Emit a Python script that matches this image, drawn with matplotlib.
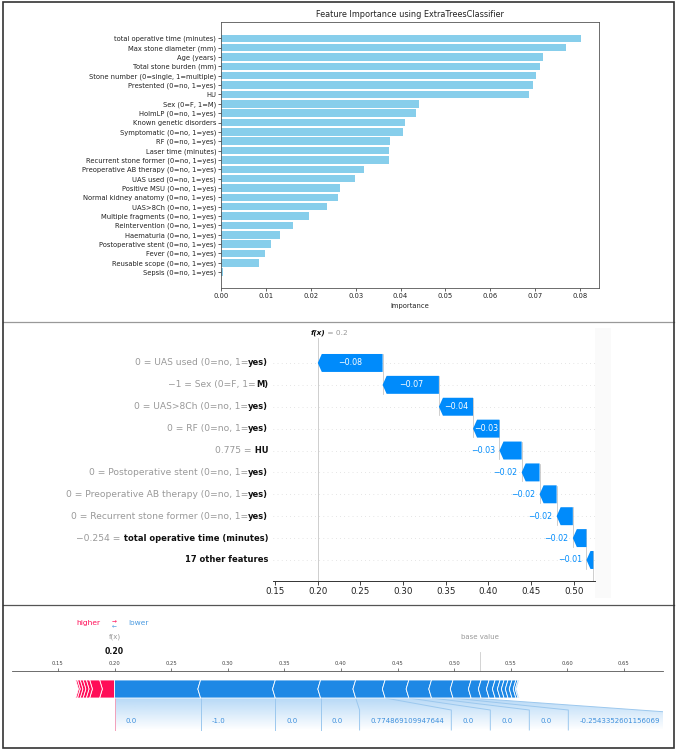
import matplotlib
matplotlib.use("Agg")
import matplotlib.pyplot as plt
import numpy as np
from matplotlib.patches import Polygon, Rectangle
from matplotlib.lines import Line2D
from matplotlib.ticker import FormatStrFormatter
from matplotlib.transforms import blended_transform_factory

W, H = 677, 751

# --- panel 1: feature importance (ExtraTreesClassifier) ---
fi_features = ["total operative time (minutes)", "Max stone diameter (mm)", "Age (years)",
               "Total stone burden (mm)", "Stone number (0=single, 1=multiple)",
               "Prestented (0=no, 1=yes)", "HU", "Sex (0=F, 1=M)", "HolmLP (0=no, 1=yes)",
               "Known genetic disorders", "Symptomatic (0=no, 1=yes)", "RF (0=no, 1=yes)",
               "Laser time (minutes)", "Recurrent stone former (0=no, 1=yes)",
               "Preoperative AB therapy (0=no, 1=yes)", "UAS used (0=no, 1=yes)",
               "Positive MSU (0=no, 1=yes)", "Normal kidney anatomy (0=no, 1=yes)",
               "UAS>8Ch (0=no, 1=yes)", "Multiple fragments (0=no, 1=yes)",
               "Reintervention (0=no, 1=yes)", "Haematuria (0=no, 1=yes)",
               "Postoperative stent (0=no, 1=yes)", "Fever (0=no, 1=yes)",
               "Reusable scope (0=no, 1=yes)", "Sepsis (0=no, 1=yes)"]
fi_values = [0.0802, 0.0768, 0.0718, 0.0711, 0.0701, 0.0694, 0.0686, 0.0442, 0.0435, 0.0409,
             0.0405, 0.0376, 0.0375, 0.0375, 0.0319, 0.0299, 0.0266, 0.0261, 0.0236, 0.0196,
             0.0160, 0.0132, 0.0111, 0.0097, 0.0085, 0.0004]

# --- panels 2/3: SHAP explanation of one prediction ---
fx = 0.20
shap_names = ["UAS used (0=no, 1=yes)", "Sex (0=F, 1=M)", "UAS>8Ch (0=no, 1=yes)",
              "RF (0=no, 1=yes)", "HU", "Postoperative stent (0=no, 1=yes)",
              "Preoperative AB therapy (0=no, 1=yes)", "Recurrent stone former (0=no, 1=yes)",
              "total operative time (minutes)"]
shap_feature_values = [0.0, -1.0, 0.0, 0.0, 0.774869109947644, 0.0, 0.0, 0.0, -0.2543352601156069]
shap_values = [-0.076, -0.066, -0.040, -0.031, -0.026, -0.021, -0.020, -0.019, -0.016]
# the 17 remaining features
other_values = [0.0132, 0.0088, 0.0030, 0.0028, 0.0026, 0.0024, 0.0015,
                -0.0088, -0.0071, -0.0053, -0.0044, -0.0035, -0.0035, -0.0035, -0.0035,
                -0.0018, -0.0010]

other_sum = sum(other_values)
base_value = fx - sum(shap_values) - other_sum

RED = "#ff0d57"
BLUE = "#008bfb"
FBLUE = "#1e88e5"


def px_rect(l, t, r, b):
    return [l / W, 1 - b / H, (r - l) / W, (b - t) / H]


def fmt_minus(s):
    return s.replace("-", "\u2212")


fig = plt.figure(figsize=(W / 100, H / 100), dpi=100)

### Panel 1 ###
ax1 = fig.add_axes(px_rect(221, 22.5, 599, 288))
y = np.arange(len(fi_features))
ax1.barh(y, fi_values, color="skyblue")
ax1.set_yticks(y, fi_features)
ax1.invert_yaxis()
ax1.set_xticks(np.arange(0, 0.081, 0.01))
ax1.xaxis.set_major_formatter(FormatStrFormatter("%.2f"))
ax1.tick_params(labelsize=4.9, length=2, width=0.5, pad=1.5, colors="#222222")
ax1.set_xlabel("Importance", fontsize=4.9, labelpad=3, color="#222222")
ax1.set_title("Feature Importance using ExtraTreesClassifier", fontsize=5.9, pad=4, color="#222222")
for s in ax1.spines.values():
    s.set_linewidth(0.6)
    s.set_color("#555555")

### Panel 2: waterfall ###
ax2 = fig.add_axes(px_rect(273, 338, 595, 581))
ax2.set_xlim(0.1475, 0.525)
ax2.set_ylim(9.96, -1.14)
rows = list(range(len(shap_values) + 1))
wf_values = shap_values + [other_sum]
starts, ends = [0] * len(wf_values), [0] * len(wf_values)
pos = base_value
for i in reversed(rows):
    starts[i] = pos
    ends[i] = pos + wf_values[i]
    pos = ends[i]

hh = 0.41
hl = 0.0047
for i in rows:
    ax2.axhline(i, color="#cccccc", lw=0.5, dashes=(1, 5), zorder=-1)
    s, e = starts[i], ends[i]
    h = min(hl, abs(e - s))
    pts = [(s, i - hh), (e + h, i - hh), (e, i), (e + h, i + hh), (s, i + hh)]
    ax2.add_patch(Polygon(pts, closed=True, facecolor=BLUE, edgecolor="none", zorder=2))
    txt = fmt_minus("%+.2f" % wf_values[i]).replace("+", "")
    if abs(e - s) > 0.029:
        ax2.text((s + e) / 2, i, txt, color="white", ha="center", va="center", fontsize=5.7, zorder=3)
    else:
        ax2.annotate(txt, xy=(e, i), xytext=(-3, 0), textcoords="offset points",
                     color=BLUE, ha="right", va="center", fontsize=5.7)
    if i < rows[-1]:
        ax2.plot([s, s], [i - 0.4, i + 1 + 0.4], color="#bbbbbb", lw=0.5, zorder=-1)

ax2.plot([fx, fx], [9.96, -1.14], color="#bbbbbb", lw=0.5, zorder=-1)
ax2.plot([base_value, base_value], [rows[-1] - 0.4, 9.96], color="#bbbbbb", lw=0.5, zorder=-1)

lab_tr = blended_transform_factory(ax2.transAxes, ax2.transData)
for i, (name, val) in enumerate(zip(shap_names, shap_feature_values)):
    vs = ("%d" % val) if val == int(val) else ("%0.03f" % val)
    full = fmt_minus(vs) + " = " + name
    k = full.rfind("=")
    black = ax2.text(-0.0155, i, full[k + 1:], transform=lab_tr, ha="right", va="center",
                     fontsize=6, fontweight="bold", color="#111111")
    ax2.annotate(full[:k + 1], xy=(0, 0.5), xycoords=black, ha="right", va="center",
                 fontsize=6.6, color="#999999")
ax2.text(-0.0155, rows[-1], "%d other features" % len(other_values), transform=lab_tr,
         ha="right", va="center", fontsize=6, fontweight="bold", color="#111111")

fxt = ax2.annotate("f(x)", xy=(fx, 1), xycoords=("data", "axes fraction"), xytext=(0, 1.5),
                   textcoords="offset points", ha="center", va="bottom", fontsize=5.3,
                   fontstyle="italic", fontweight="bold", color="#111111")
ax2.annotate(" = %s" % format(fx, "g"), xy=(1, 0), xycoords=fxt, ha="left", va="bottom",
             fontsize=5.3, color="#999999")

for sp in ["left", "right", "top"]:
    ax2.spines[sp].set_visible(False)
ax2.spines["bottom"].set_color("#333333")
ax2.spines["bottom"].set_linewidth(0.7)
ax2.set_yticks([])
ax2.set_xticks(np.arange(0.15, 0.501, 0.05))
ax2.xaxis.set_major_formatter(FormatStrFormatter("%.2f"))
ax2.tick_params(axis="x", labelsize=6.3, length=3, width=0.6, pad=1.5, colors="#222222")

### Panel 3: force plot ###
ax3 = fig.add_axes(px_rect(12, 606, 663, 746))
x0, x1 = 0.1094, 0.6845
ax3.set_xlim(x0, x1)
ax3.set_ylim(746, 606)
ax3.patch.set_alpha(0)
for sp in ["left", "right", "bottom"]:
    ax3.spines[sp].set_visible(False)
ax3.spines["top"].set_position(("data", 671))
ax3.spines["top"].set_color("#555555")
ax3.spines["top"].set_linewidth(0.6)
ax3.xaxis.tick_top()
ax3.set_xticks(np.arange(0.15, 0.651, 0.05))
ax3.xaxis.set_major_formatter(FormatStrFormatter("%.2f"))
ax3.tick_params(axis="x", labelsize=3.8, length=2, width=0.5, pad=1.5, colors="#444444")
ax3.set_yticks([])

bt, bb, bm = 680, 698, 689
ch = 0.0024
all_vals = shap_values + other_values
pos_vals = sorted([v for v in all_vals if v > 0], reverse=True)
neg_vals = sorted([v for v in all_vals if v < 0])

p = fx
for k, v in enumerate(pos_vals):
    r, l = p, p - v
    pts = [(r, bt)] + ([] if k == 0 else [(r + ch, bm)]) + [(r, bb), (l, bb), (l + ch, bm), (l, bt)]
    ax3.add_patch(Polygon(pts, closed=True, facecolor=RED, edgecolor="white", lw=0.6, zorder=3))
    p = l

seg_edges = [fx]
p = fx
for k, v in enumerate(neg_vals):
    l, r = p, p - v
    pts = [(l, bt), (r, bt), (r - ch, bm), (r, bb), (l, bb)] + ([] if k == 0 else [(l - ch, bm)])
    ax3.add_patch(Polygon(pts, closed=True, facecolor=FBLUE, edgecolor="white", lw=0.6, zorder=3))
    p = r
    seg_edges.append(r)

# labels for the named features
fig.canvas.draw()
renderer = fig.canvas.get_renderer()
ppu = ax3.bbox.width / (x1 - x0)
lab_texts = []
for val in shap_feature_values:
    lab_texts.append(ax3.text(0, 721, str(float(val)), ha="left", va="center",
                              fontsize=5.0, color="#3d8fdc", zorder=4))
box_edges = [fx]
prev = fx
for i, t in enumerate(lab_texts):
    tw = t.get_window_extent(renderer).width / ppu
    seg_w = seg_edges[i + 1] - seg_edges[i]
    bs = max(seg_edges[i], prev)
    bw = max(seg_w, tw + 18 / ppu, 39 / ppu)
    t.set_x(bs + 11 / ppu)
    prev = bs + bw
    box_edges.append(prev)

ys = 710
ytop_last = ys + 2
poly = [(fx, bb), (seg_edges[len(lab_texts)], bb), (box_edges[-1], ytop_last), (box_edges[-1], 730), (fx, 730)]
clip = Polygon(poly, closed=True, facecolor="none", edgecolor="none")
ax3.add_patch(clip)
grad = np.zeros((60, 1, 4))
grad[:, 0, :3] = matplotlib.colors.to_rgb(FBLUE)
grad[:, 0, 3] = np.linspace(0.32, 0.0, 60)
im = ax3.imshow(grad, extent=[fx, box_edges[-1], 730, bb], aspect="auto", zorder=1,
                interpolation="bilinear")
im.set_clip_path(clip)
for b, (s, xb) in enumerate(zip(seg_edges[:len(box_edges)], box_edges)):
    col = "#f3a0ba" if b == 0 else "#9cc8ee"
    if abs(s - xb) < 1e-9:
        ax3.plot([s, s], [bb, 730], color=col, lw=0.7, zorder=2)
    else:
        yy = ytop_last if b == len(box_edges) - 1 else ys
        ax3.plot([s, xb, xb], [bb, yy, 730], color=col, lw=0.7, zorder=2)

ax3.annotate("higher", xy=(fx, 623), xytext=(-10, 0), textcoords="offset points",
             ha="right", va="center", fontsize=5.4, color=RED)
ax3.annotate("lower", xy=(fx, 623), xytext=(10, 0), textcoords="offset points",
             ha="left", va="center", fontsize=5.4, color="#4a9ae0")
ax3.annotate("\u2192", xy=(fx, 621), ha="center", va="center", fontsize=4.2, color=RED)
ax3.annotate("\u2190", xy=(fx, 625.5), ha="center", va="center", fontsize=4.2, color="#4a9ae0")
ax3.text(fx, 637, "f(x)", ha="center", va="center", fontsize=5, color="#999999")
ax3.text(fx, 651, "%.2f" % fx, ha="center", va="center", fontsize=5.6, fontweight="bold", color="#111111")
ax3.text(base_value, 637, "base value", ha="center", va="center", fontsize=5, color="#999999")
ax3.plot([base_value, base_value], [652, 671], color="#cccccc", lw=0.6)
ax3.set_xlim(x0, x1)
ax3.set_ylim(746, 606)

### frame, dividers, clipping of the waterfall labels ###
fig.patches.append(Rectangle((595 / W, 1 - 598 / H), 16 / W, 270 / H, transform=fig.transFigure,
                             facecolor="#fafafa", edgecolor="none", zorder=-1))
fig.patches.append(Rectangle((4.5 / W, 1 - 603 / H), 59.5 / W, 280 / H, transform=fig.transFigure,
                             facecolor="white", edgecolor="none", zorder=5))
fig.lines.append(Line2D([3 / W, 674 / W], [1 - 322 / H, 1 - 322 / H], transform=fig.transFigure,
                        color="#999999", lw=0.9, zorder=6))
fig.lines.append(Line2D([3 / W, 674 / W], [1 - 605 / H, 1 - 605 / H], transform=fig.transFigure,
                        color="#555555", lw=0.9, zorder=6))
fig.patches.append(Rectangle((3 / W, 1 - 748 / H), 671 / W, 746 / H, transform=fig.transFigure,
                             facecolor="none", edgecolor="#333333", lw=1.2, zorder=7))

fig.savefig("out.png", dpi=100)
